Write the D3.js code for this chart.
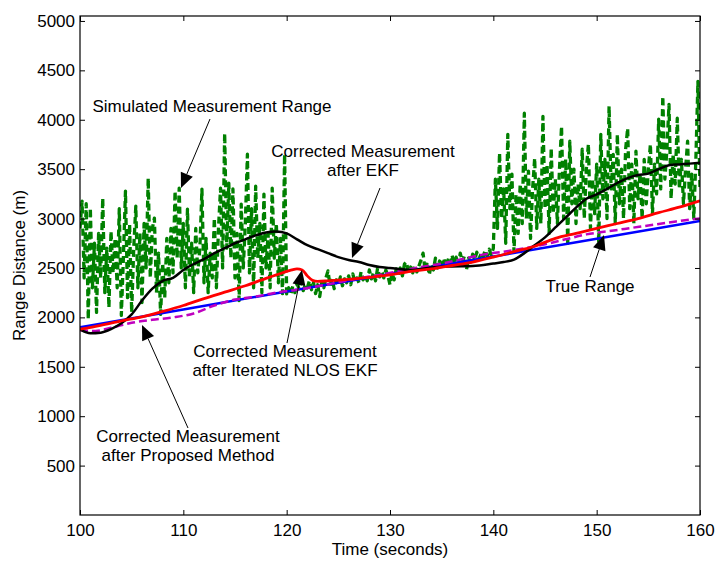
<!DOCTYPE html>
<html>
<head>
<meta charset="utf-8">
<script src="https://cdn.jsdelivr.net/npm/d3@7"></script>
<style>
  body { margin: 0; background: #fff; }
  svg { font-family: Arial, "Liberation Sans", Helvetica, sans-serif; }
</style>
</head>
<body>
<div id="chart"></div>
<script>
// axis ticks
const xTicks = [100, 110, 120, 130, 140, 150, 160];
const yTicks = [500, 1000, 1500, 2000, 2500, 3000, 3500, 4000, 4500, 5000];

// simulated measurement, sampled every 0.2 s from 100 s
const measStart = 100, measStep = 0.2;
const measValues = [
  2900, 3177, 2400, 3150, 1980, 3106, 2300, 2750, 2050, 2850,
  2400, 3207, 2250, 2700, 2100, 2873, 2450, 2800, 2300, 3100,
  2020, 2600, 3278, 2200, 2944, 2050, 2700, 3126, 2300, 2850,
  2150, 2950, 2500, 3409, 2400, 2900, 3005, 2250, 2650, 2030,
  2550, 2200, 2800, 2350, 2900, 2450, 3278, 2600, 3308, 2500,
  2950, 2300, 3096, 2400, 2750, 2250, 2900, 2450, 2700, 3298,
  2350, 2800, 2250, 2650, 2400, 3005, 2300, 2900, 3308, 2500,
  3863, 2700, 3359, 2600, 3300, 2400, 2850, 2170, 3146, 2500,
  2950, 3651, 2450, 3100, 2300, 3328, 2600, 2950, 2250, 3247,
  2500, 2850, 2300, 3308, 2600, 2950, 2350, 2800, 2240, 3651,
  2237, 2300, 2230, 2320, 2250, 2340, 2290, 2360, 2270, 2330,
  2300, 2370, 2280, 2350, 2240, 2330, 2210, 2360, 2300, 2400,
  2470, 2320, 2390, 2290, 2380, 2330, 2410, 2320, 2390, 2350,
  2420, 2330, 2440, 2360, 2400, 2350, 2460, 2380, 2420, 2370,
  2480, 2390, 2450, 2370, 2500, 2410, 2460, 2400, 2480, 2420,
  2330, 2450, 2380, 2490, 2430, 2500, 2420, 2540, 2560, 2440,
  2510, 2450, 2530, 2460, 2520, 2580, 2650, 2470, 2560, 2430,
  2540, 2480, 2600, 2500, 2570, 2490, 2600, 2520, 2580, 2510,
  2630, 2540, 2610, 2530, 2650, 2560, 2620, 2480, 2600, 2560,
  2640, 2580, 2660, 2590, 2640, 2600, 2680, 2620, 2690, 2630,
  2700, 3400, 2900, 3665, 3000, 3300, 2750, 3853, 3100, 3450,
  2660, 3247, 2850, 3350, 2950, 4066, 3000, 3480, 2800, 3300,
  3611, 2900, 3400, 2950, 4035, 3100, 3550, 2850, 3712, 3050,
  3400, 2950, 3500, 3934, 3000, 3600, 2750, 3783, 3150, 3500,
  2950, 3350, 3100, 3702, 3000, 3500, 3753, 2900, 3400, 3050,
  3550, 2752, 3853, 3200, 3600, 3000, 4137, 3300, 3650, 2950,
  3853, 3150, 3500, 3000, 3700, 3914, 3100, 3550, 2950, 3682,
  3200, 3450, 3000, 3600, 3150, 3500, 3753, 3050, 3550, 3250,
  4005, 3300, 4237, 3400, 3700, 4156, 3200, 3650, 3350, 4015,
  3300, 3600, 3150, 3500, 3783, 3100, 3450, 3005, 3600, 4389,
  3300
];

// true range
const trueT = [100, 110, 120, 130, 140, 150, 160];
const trueV = [1900, 2080, 2262, 2440, 2615, 2795, 2975];

// corrected after EKF
const ekfT = [100, 101, 102, 103, 104, 105, 106, 107, 108, 109, 110, 111, 112, 113, 114, 115, 116, 117, 118, 119,
  120, 121, 122, 123, 124, 125, 126, 127, 128, 129, 130, 132, 134, 136, 138, 140, 141, 142, 143, 144,
  145, 146, 147, 148, 149, 150, 151, 152, 153, 154, 155, 156, 157, 158, 159, 160];
const ekfV = [1880, 1840, 1845, 1880, 1940, 2030, 2170, 2290, 2370, 2400, 2480, 2540, 2590, 2650, 2700, 2750, 2790, 2830, 2860, 2870,
  2850, 2790, 2730, 2690, 2650, 2610, 2580, 2560, 2530, 2510, 2500, 2480, 2505, 2515, 2520, 2545, 2560, 2585, 2650, 2730,
  2810, 2910, 3010, 3110, 3200, 3245, 3300, 3360, 3410, 3440, 3455, 3500, 3540, 3548, 3556, 3565];

// corrected after iterated NLOS EKF
const nlosT = [100, 102, 104, 106, 108, 110, 112, 114, 116, 118, 119, 120, 120.5, 121, 121.5, 122, 122.5, 123, 124, 126,
  128, 130, 132, 134, 136, 138, 140, 142, 144, 146, 148, 150, 152, 154, 156, 158, 160];
const nlosV = [1880, 1920, 1965, 2005, 2060, 2120, 2190, 2255, 2320, 2395, 2430, 2465, 2480, 2490, 2480, 2420, 2375, 2365, 2370, 2385,
  2405, 2430, 2465, 2490, 2525, 2560, 2610, 2665, 2720, 2800, 2850, 2900, 2950, 3000, 3060, 3115, 3180];

// corrected after proposed method
const propT = [100, 101.5, 103, 105, 107, 109, 111, 113, 115, 117, 119, 121, 123, 125, 127, 129, 131, 133, 135, 137,
  139, 141, 143, 145, 147, 149, 151, 153, 155, 157, 159, 160];
const propV = [1870, 1862, 1895, 1945, 1975, 2000, 2040, 2120, 2180, 2210, 2250, 2280, 2315, 2355, 2395, 2430, 2470, 2510, 2545, 2590,
  2635, 2665, 2700, 2740, 2790, 2840, 2870, 2900, 2930, 2960, 2990, 3000];

const width = 716;
const height = 561;
const margin = { top: 16, right: 16, bottom: 46, left: 80 };

const svg = d3.select("#chart")
  .append("svg")
  .attr("width", width)
  .attr("height", height);

svg.append("rect").attr("width", width).attr("height", height).attr("fill", "#fff");

const x = d3.scaleLinear().domain([100, 160]).range([margin.left, width - margin.right]);
const y = d3.scaleLinear().domain([0, 5050]).range([height - margin.bottom, margin.top]);

const plot = svg.append("g");
plot.append("clipPath").attr("id", "clip")
  .append("rect")
  .attr("x", x(100)).attr("y", y(5050))
  .attr("width", x(160) - x(100)).attr("height", y(0) - y(5050));

const zip = (ts, vs) => ts.map((t, i) => [t, vs[i]]);
const meas = measValues.map((v, i) => [measStart + i * measStep, v]);

const lineLin = d3.line().x(d => x(d[0])).y(d => y(d[1]));
const lineSmooth = d3.line().x(d => x(d[0])).y(d => y(d[1])).curve(d3.curveMonotoneX);

const series = [
  { data: meas, gen: lineLin, color: "#008000", w: 3.3, dash: "7,4" },
  { data: zip(trueT, trueV), gen: lineLin, color: "#0000ff", w: 2.5, dash: null },
  { data: zip(propT, propV), gen: lineSmooth, color: "#bf00bf", w: 2.5, dash: "8,4" },
  { data: zip(ekfT, ekfV), gen: lineSmooth, color: "#000000", w: 2.5, dash: null },
  { data: zip(nlosT, nlosV), gen: lineSmooth, color: "#ff0000", w: 2.8, dash: null }
];

const lines = plot.append("g").attr("clip-path", "url(#clip)");
series.forEach(s => {
  lines.append("path")
    .datum(s.data)
    .attr("d", s.gen)
    .attr("fill", "none")
    .attr("stroke", s.color)
    .attr("stroke-width", s.w)
    .attr("stroke-linejoin", "round")
    .attr("stroke-dasharray", s.dash);
});

// axes, ticks pointing inward on all four sides
const fontSize = "17px";
const styleAxis = g => {
  g.select(".domain").remove();
  g.selectAll("line").attr("stroke", "#000");
  g.selectAll("text").attr("fill", "#000").attr("font-size", fontSize).attr("font-family", null);
};

svg.append("g")
  .attr("transform", `translate(0,${y(0)})`)
  .call(d3.axisBottom(x).tickValues(xTicks).tickSize(-5).tickPadding(9).tickFormat(d3.format("d")))
  .call(styleAxis);
svg.append("g")
  .attr("transform", `translate(0,${y(5050)})`)
  .call(d3.axisTop(x).tickValues(xTicks).tickSize(-5).tickFormat(""))
  .call(styleAxis);
svg.append("g")
  .attr("transform", `translate(${x(100)},0)`)
  .call(d3.axisLeft(y).tickValues(yTicks).tickSize(-5).tickPadding(5).tickFormat(d3.format("d")))
  .call(styleAxis);
svg.append("g")
  .attr("transform", `translate(${x(160)},0)`)
  .call(d3.axisRight(y).tickValues(yTicks).tickSize(-5).tickFormat(""))
  .call(styleAxis);

svg.append("rect")
  .attr("x", x(100)).attr("y", y(5050))
  .attr("width", x(160) - x(100)).attr("height", y(0) - y(5050))
  .attr("fill", "none").attr("stroke", "#000").attr("stroke-width", 1.2);

svg.append("text")
  .attr("x", (x(100) + x(160)) / 2)
  .attr("y", 555)
  .attr("text-anchor", "middle")
  .attr("font-size", fontSize)
  .text("Time (seconds)");

svg.append("text")
  .attr("transform", `translate(25,${(y(0) + y(5050)) / 2}) rotate(-90)`)
  .attr("text-anchor", "middle")
  .attr("font-size", fontSize)
  .text("Range Distance (m)");

// annotations: text lines plus an arrow (pixel layout of the callouts)
const notes = [
  { lines: ["Simulated Measurement Range"], cx: 212, cy: 112, from: [210, 119], to: [181, 188] },
  { lines: ["Corrected Measurement", "after EKF"], cx: 363, cy: 157, from: [380, 188], to: [352, 258] },
  { lines: ["Corrected Measurement", "after Iterated NLOS EKF"], cx: 285, cy: 357, from: [287, 343], to: [302, 270] },
  { lines: ["Corrected Measurement", "after Proposed Method"], cx: 188, cy: 442, from: [188, 428], to: [142, 325] },
  { lines: ["True Range"], cx: 590, cy: 292, from: [590, 277], to: [604, 235] }
];

const ann = svg.append("g");
notes.forEach(n => {
  n.lines.forEach((t, i) => {
    ann.append("text")
      .attr("x", n.cx)
      .attr("y", n.cy + i * 19)
      .attr("text-anchor", "middle")
      .attr("font-size", fontSize)
      .text(t);
  });
  const [x0, y0] = n.from, [x1, y1] = n.to;
  const a = Math.atan2(y1 - y0, x1 - x0);
  const len = 15, half = 6.5;
  const bx = x1 - len * Math.cos(a), by = y1 - len * Math.sin(a);
  ann.append("line")
    .attr("x1", x0).attr("y1", y0).attr("x2", bx).attr("y2", by)
    .attr("stroke", "#000").attr("stroke-width", 1);
  const p1 = [bx + half * Math.sin(a), by - half * Math.cos(a)];
  const p2 = [bx - half * Math.sin(a), by + half * Math.cos(a)];
  ann.append("path")
    .attr("d", `M${x1},${y1}L${p1[0]},${p1[1]}L${p2[0]},${p2[1]}Z`)
    .attr("fill", "#000");
});
</script>
</body>
</html>
